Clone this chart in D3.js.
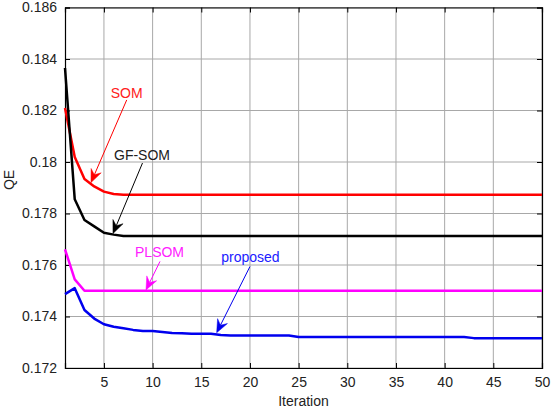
<!DOCTYPE html>
<html><head><meta charset="utf-8">
<script src="https://cdn.jsdelivr.net/npm/d3@7"></script>
<style>
html,body{margin:0;padding:0;background:#fff;}
svg{display:block;font-family:"Liberation Sans",Arial,sans-serif;}
</style></head>
<body><svg id="c" width="552" height="415"></svg>
<script>
const iterations = d3.range(1, 51);
const som = [0.18210,0.18019,0.17934,0.17905,0.17885,0.17876,0.17873,0.17873,0.17873,0.17873,
  0.17873,0.17873,0.17873,0.17873,0.17873,0.17873,0.17873,0.17873,0.17873,0.17873,
  0.17873,0.17873,0.17873,0.17873,0.17873,0.17873,0.17873,0.17873,0.17873,0.17873,
  0.17873,0.17873,0.17873,0.17873,0.17873,0.17873,0.17873,0.17873,0.17873,0.17873,
  0.17873,0.17873,0.17873,0.17873,0.17873,0.17873,0.17873,0.17873,0.17873,0.17873];
const gfsom = [0.18365,0.17855,0.17775,0.17750,0.17725,0.17718,0.17713,0.17713,0.17713,0.17713,
  0.17713,0.17713,0.17713,0.17713,0.17713,0.17713,0.17713,0.17713,0.17713,0.17713,
  0.17713,0.17713,0.17713,0.17713,0.17713,0.17713,0.17713,0.17713,0.17713,0.17713,
  0.17713,0.17713,0.17713,0.17713,0.17713,0.17713,0.17713,0.17713,0.17713,0.17713,
  0.17713,0.17713,0.17713,0.17713,0.17713,0.17713,0.17713,0.17713,0.17713,0.17713];
const plsom = [0.17661,0.17544,0.17500,0.17500,0.17500,0.17500,0.17500,0.17500,0.17500,0.17500,
  0.17500,0.17500,0.17500,0.17500,0.17500,0.17500,0.17500,0.17500,0.17500,0.17500,
  0.17500,0.17500,0.17500,0.17500,0.17500,0.17500,0.17500,0.17500,0.17500,0.17500,
  0.17500,0.17500,0.17500,0.17500,0.17500,0.17500,0.17500,0.17500,0.17500,0.17500,
  0.17500,0.17500,0.17500,0.17500,0.17500,0.17500,0.17500,0.17500,0.17500,0.17500];
const proposed = [0.17487,0.17510,0.17425,0.17392,0.17370,0.17360,0.17354,0.17348,0.17344,0.17344,
  0.17340,0.17336,0.17335,0.17333,0.17333,0.17333,0.17328,0.17326,0.17326,0.17326,
  0.17326,0.17326,0.17326,0.17326,0.17320,0.17320,0.17320,0.17320,0.17320,0.17320,
  0.17320,0.17320,0.17320,0.17320,0.17320,0.17320,0.17320,0.17320,0.17320,0.17320,
  0.17320,0.17320,0.17316,0.17316,0.17316,0.17316,0.17316,0.17316,0.17316,0.17316];
const xTicks = [5,10,15,20,25,30,35,40,45,50];
const yTicks = [0.172,0.174,0.176,0.178,0.18,0.182,0.184,0.186];
const yTickLabels = ["0.172","0.174","0.176","0.178","0.18","0.182","0.184","0.186"];
const seriesNames = ["SOM","GF-SOM","PLSOM","proposed"];
const seriesColors = ["#ff0000","#000000","#ff00ff","#0000ee"];
const textColors = ["#ff2020","#202020","#ff20ff","#2020ff"];
// annotations in data coordinates: [textX, textY, arrowStartX, arrowStartY, tipX, tipY]
const annotations = [
  [7.34,0.18269, 7.34,0.18241, 3.67,0.17920],
  [8.91,0.18027, 8.96,0.17996, 5.93,0.17722],
  [10.71,0.17649, 10.76,0.17614, 9.32,0.17503],
  [20.05,0.17631, 20.0,0.17594, 16.58,0.17337]
];

const L=65, R=542, T=7.5, B=368;
const svg = d3.select("#c");
const x = d3.scaleLinear().domain([1,50]).range([L,R]);
const y = d3.scaleLinear().domain([0.172,0.186]).range([B,T]);

// grid
const g = svg.append("g");
g.selectAll("line.gx").data(xTicks).join("line")
  .attr("x1",d=>x(d)).attr("x2",d=>x(d)).attr("y1",T).attr("y2",B)
  .attr("stroke","#a8a8a8").attr("stroke-width",1);
g.selectAll("line.gy").data(yTicks).join("line")
  .attr("x1",L).attr("x2",R).attr("y1",d=>y(d)).attr("y2",d=>y(d))
  .attr("stroke","#a8a8a8").attr("stroke-width",1);

// axes
const xAxis = d3.axisBottom(x).tickValues(xTicks).tickSize(-5).tickPadding(9);
const xAxisTop = d3.axisTop(x).tickValues(xTicks).tickSize(-5).tickFormat("");
const yAxis = d3.axisLeft(y).tickValues(yTicks).tickSize(-5).tickPadding(8)
  .tickFormat((d,i)=>yTickLabels[i]);
const yAxisR = d3.axisRight(y).tickValues(yTicks).tickSize(-5).tickFormat("");
function style(sel){
  sel.select(".domain").attr("stroke","#000").attr("stroke-width",1.2);
  sel.selectAll(".tick line").attr("stroke","#000");
  sel.selectAll(".tick text").attr("fill","#222").style("font-size","14px")
    .style("font-family","'Liberation Sans',Arial,sans-serif");
}
svg.append("g").attr("transform",`translate(0,${B})`).call(xAxis).call(style);
svg.append("g").attr("transform",`translate(0,${T})`).call(xAxisTop).call(style);
svg.append("g").attr("transform",`translate(${L},0)`).call(yAxis).call(style);
svg.append("g").attr("transform",`translate(${R},0)`).call(yAxisR).call(style);

// lines
const allSeries = [som, gfsom, plsom, proposed];
const line = d3.line().x((d,i)=>x(iterations[i])).y(d=>y(d));
svg.append("g").selectAll("path").data(allSeries).join("path")
  .attr("d", line).attr("fill","none")
  .attr("stroke",(d,i)=>seriesColors[i]).attr("stroke-width",2.5)
  .attr("stroke-linejoin","round");

// annotations
const ag = svg.append("g");
annotations.forEach((a,i)=>{
  const c = seriesColors[i];
  const tx=x(a[0]), ty=y(a[1]);
  ag.append("text").attr("x",tx).attr("y",ty).attr("text-anchor","middle")
    .attr("dominant-baseline","central").attr("fill",textColors[i])
    .style("font-size","14px").text(seriesNames[i]);
  const sx=x(a[2]), sy=y(a[3]), ex=x(a[4]), ey=y(a[5]);
  const ang = Math.atan2(ey-sy, ex-sx);
  const hl=13, hw=5.5;
  const bx = ex - hl*Math.cos(ang), by = ey - hl*Math.sin(ang);
  const nx = ex - hl*0.65*Math.cos(ang), ny = ey - hl*0.65*Math.sin(ang);
  const px=-Math.sin(ang), py=Math.cos(ang);
  ag.append("line").attr("x1",sx).attr("y1",sy).attr("x2",nx).attr("y2",ny)
    .attr("stroke",c).attr("stroke-width",1);
  ag.append("path").attr("d",
    `M${ex},${ey}L${bx+px*hw},${by+py*hw}L${nx},${ny}L${bx-px*hw},${by-py*hw}Z`)
    .attr("fill",c).attr("stroke",c).attr("stroke-width",0.5);
});

// labels
svg.append("text").attr("x",(L+R)/2).attr("y",406).attr("text-anchor","middle")
  .attr("fill","#222").style("font-size","14px").text("Iteration");
svg.append("text").attr("transform","translate(14,180) rotate(-90)")
  .attr("text-anchor","middle").attr("fill","#222").style("font-size","14px").text("QE");
</script></body></html>
